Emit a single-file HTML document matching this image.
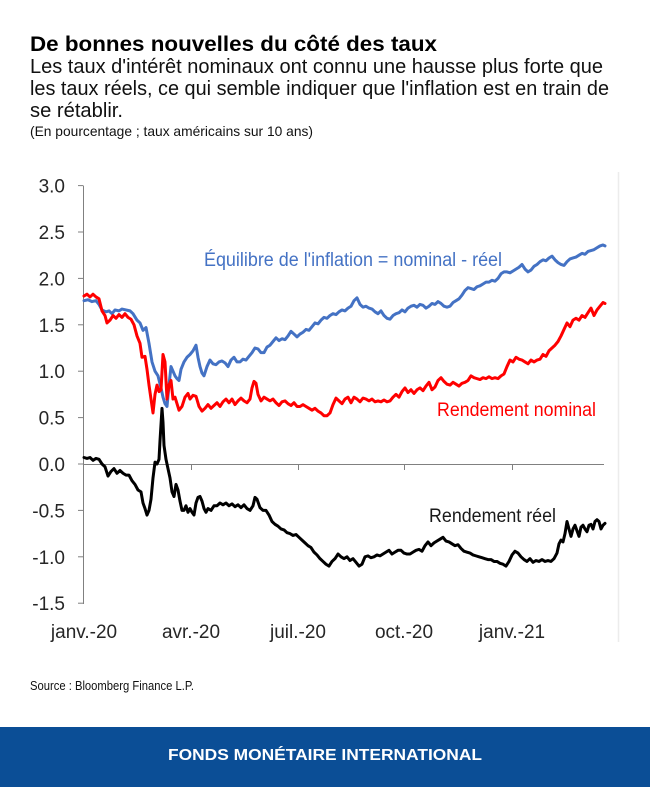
<!DOCTYPE html>
<html>
<head>
<meta charset="utf-8">
<style>
html,body{margin:0;padding:0;background:#fff;}
svg{display:block;}
</style>
</head>
<body>
<svg width="650" height="787" viewBox="0 0 650 787" xmlns="http://www.w3.org/2000/svg" font-family="'Liberation Sans', Arial, sans-serif">
<rect x="0" y="0" width="650" height="787" fill="#ffffff"/>

<!-- Titles -->
<text x="30" y="51" font-size="21" font-weight="bold" fill="#000" textLength="407" lengthAdjust="spacingAndGlyphs">De bonnes nouvelles du côté des taux</text>
<text x="30" y="73" font-size="20" fill="#111" textLength="573" lengthAdjust="spacingAndGlyphs">Les taux d'intérêt nominaux ont connu une hausse plus forte que</text>
<text x="30" y="95" font-size="20" fill="#111" textLength="579" lengthAdjust="spacingAndGlyphs">les taux réels, ce qui semble indiquer que l'inflation est en train de</text>
<text x="30" y="117" font-size="20" fill="#111" textLength="93" lengthAdjust="spacingAndGlyphs">se rétablir.</text>
<text x="30" y="136" font-size="14" fill="#111" textLength="283" lengthAdjust="spacingAndGlyphs">(En pourcentage ; taux américains sur 10 ans)</text>

<!-- faint right border line -->
<line x1="618.5" y1="172" x2="618.5" y2="642" stroke="#ececec" stroke-width="1.5"/>

<!-- Axes -->
<g stroke="#808080" stroke-width="1" fill="none">
<line x1="83.5" y1="186" x2="83.5" y2="604"/>
<line x1="78" y1="185.6" x2="83.5" y2="185.6"/>
<line x1="78" y1="232" x2="83.5" y2="232"/>
<line x1="78" y1="278.4" x2="83.5" y2="278.4"/>
<line x1="78" y1="324.8" x2="83.5" y2="324.8"/>
<line x1="78" y1="371.2" x2="83.5" y2="371.2"/>
<line x1="78" y1="417.6" x2="83.5" y2="417.6"/>
<line x1="78" y1="464" x2="83.5" y2="464"/>
<line x1="78" y1="510.4" x2="83.5" y2="510.4"/>
<line x1="78" y1="556.8" x2="83.5" y2="556.8"/>
<line x1="78" y1="603.2" x2="83.5" y2="603.2"/>
<line x1="83.5" y1="464.5" x2="604" y2="464.5"/>
<line x1="191.5" y1="464.5" x2="191.5" y2="470"/>
<line x1="298.5" y1="464.5" x2="298.5" y2="470"/>
<line x1="404.5" y1="464.5" x2="404.5" y2="470"/>
<line x1="512.5" y1="464.5" x2="512.5" y2="470"/>
</g>

<!-- Y tick labels -->
<g font-size="19" fill="#262626" text-anchor="end">
<text x="65" y="192.6">3.0</text>
<text x="65" y="239">2.5</text>
<text x="65" y="285.4">2.0</text>
<text x="65" y="331.8">1.5</text>
<text x="65" y="378.2">1.0</text>
<text x="65" y="424.6">0.5</text>
<text x="65" y="471">0.0</text>
<text x="65" y="517.4">-0.5</text>
<text x="65" y="563.8">-1.0</text>
<text x="65" y="610.2">-1.5</text>
</g>

<!-- X tick labels -->
<g font-size="19" fill="#262626" text-anchor="middle">
<text x="84" y="638">janv.-20</text>
<text x="191" y="638">avr.-20</text>
<text x="298" y="638">juil.-20</text>
<text x="404" y="638">oct.-20</text>
<text x="512" y="638">janv.-21</text>
</g>

<!-- Series -->
<g transform="translate(0,464) scale(1,-92.8)" fill="none" stroke-linejoin="round" stroke-linecap="round">
<polyline vector-effect="non-scaling-stroke" stroke="#4472C4" stroke-width="3" points="84,1.76 88,1.77 92,1.75 96,1.76 99,1.72 102,1.66 106,1.64 109,1.65 112,1.62 115,1.66 119,1.65 122,1.67 126,1.66 130,1.65 133,1.62 137,1.55 140,1.52 143,1.44 146,1.47 149,1.30 152,1.10 155,1.00 158,0.95 161,0.82 163,0.72 165,0.65 167,0.62 169,0.85 171,1.05 173,1.00 175,0.95 177,0.92 179,0.90 181,1.02 184,1.10 187,1.15 190,1.18 193,1.22 196,1.28 198,1.15 200,1.05 202,0.98 204,0.95 207,1.05 210,1.12 213,1.08 216,1.07 219,1.10 222,1.11 225,1.09 228,1.05 231,1.12 234,1.15 237,1.10 240,1.10 243,1.13 246,1.12 249,1.16 252,1.20 255,1.25 258,1.24 261,1.20 264,1.20 267,1.26 270,1.28 273,1.32 276,1.36 279,1.33 282,1.35 285,1.34 288,1.38 291,1.43 294,1.40 297,1.37 300,1.40 303,1.42 306,1.45 309,1.44 312,1.48 315,1.52 318,1.51 321,1.55 324,1.58 327,1.57 330,1.60 333,1.62 336,1.61 339,1.64 342,1.66 345,1.65 348,1.68 351,1.70 354,1.76 357,1.79 360,1.72 363,1.69 366,1.70 369,1.68 372,1.67 375,1.64 378,1.62 381,1.65 384,1.60 387,1.57 390,1.56 393,1.60 396,1.62 399,1.63 402,1.66 405,1.64 408,1.68 411,1.70 414,1.71 417,1.69 420,1.72 423,1.71 426,1.68 429,1.70 432,1.73 435,1.72 438,1.75 441,1.73 444,1.70 447,1.69 450,1.70 453,1.74 456,1.76 459,1.78 462,1.82 465,1.87 468,1.90 471,1.89 474,1.88 477,1.91 480,1.92 483,1.94 486,1.96 489,1.96 492,1.98 495,1.97 498,2.00 501,2.05 504,2.07 507,2.07 510,2.06 513,2.08 516,2.10 519,2.12 522,2.15 525,2.10 528,2.07 531,2.09 534,2.13 537,2.15 540,2.18 543,2.20 546,2.19 549,2.22 552,2.24 555,2.20 558,2.17 561,2.15 564,2.14 567,2.18 570,2.21 573,2.22 576,2.23 579,2.25 582,2.27 585,2.26 588,2.29 591,2.30 594,2.31 597,2.33 600,2.35 603,2.36 605,2.35"/>
<polyline vector-effect="non-scaling-stroke" stroke="#FF0000" stroke-width="3" points="84,1.81 87,1.83 90,1.80 93,1.83 96,1.80 99,1.78 102,1.65 105,1.60 107,1.52 110,1.55 113,1.60 116,1.57 119,1.61 122,1.58 125,1.62 128,1.58 131,1.56 134,1.50 137,1.38 140,1.30 142,1.15 145,1.16 147,1.02 149,0.85 151,0.70 153,0.55 155,0.75 157,0.85 159,0.78 161,0.80 163,1.18 165,1.10 167,0.70 169,0.85 171,0.90 173,0.70 175,0.72 177,0.65 179,0.58 182,0.62 185,0.72 188,0.76 190,0.70 193,0.74 196,0.73 199,0.62 202,0.57 205,0.60 208,0.64 211,0.60 214,0.63 217,0.66 220,0.62 223,0.67 226,0.70 229,0.66 232,0.70 235,0.64 238,0.68 241,0.71 244,0.68 247,0.66 250,0.70 252,0.82 254,0.89 256,0.87 258,0.75 261,0.68 264,0.72 267,0.70 270,0.68 273,0.70 276,0.66 279,0.63 282,0.67 285,0.68 288,0.65 291,0.63 294,0.66 297,0.62 300,0.62 303,0.64 306,0.62 309,0.60 312,0.58 315,0.60 318,0.57 321,0.55 324,0.52 327,0.52 330,0.55 333,0.64 336,0.71 339,0.68 342,0.65 345,0.70 348,0.72 351,0.66 354,0.72 357,0.70 360,0.67 363,0.71 366,0.70 369,0.68 372,0.70 375,0.67 378,0.68 381,0.67 384,0.69 387,0.67 390,0.68 393,0.72 396,0.75 399,0.72 402,0.78 405,0.82 408,0.77 411,0.80 414,0.76 417,0.80 420,0.82 423,0.79 426,0.84 429,0.88 432,0.80 435,0.83 438,0.90 441,0.93 444,0.89 447,0.86 450,0.85 453,0.88 456,0.86 459,0.84 462,0.87 465,0.88 468,0.90 471,0.95 474,0.93 477,0.92 480,0.91 483,0.93 486,0.92 489,0.94 492,0.92 495,0.93 498,0.92 501,0.95 504,0.97 507,1.05 510,1.12 513,1.10 516,1.15 519,1.13 522,1.12 525,1.10 528,1.08 531,1.12 534,1.10 537,1.12 540,1.13 543,1.18 546,1.16 549,1.22 552,1.25 555,1.28 558,1.32 561,1.38 564,1.45 567,1.52 570,1.48 573,1.55 576,1.57 579,1.55 582,1.60 585,1.58 588,1.63 591,1.68 594,1.60 597,1.66 600,1.70 603,1.74 605,1.73"/>
<polyline vector-effect="non-scaling-stroke" stroke="#000000" stroke-width="3" points="84,0.07 87,0.06 90,0.07 93,0.04 96,0.06 99,0.05 102,0.00 105,-0.03 108,-0.13 111,-0.08 114,-0.05 117,-0.10 120,-0.07 123,-0.10 126,-0.12 129,-0.12 132,-0.18 135,-0.22 138,-0.28 141,-0.30 143,-0.42 145,-0.48 147,-0.55 149,-0.50 151,-0.38 153,-0.15 155,0.02 157,0.00 159,0.05 160,0.25 162,0.60 163,0.45 164,0.20 166,0.05 168,-0.05 170,-0.15 172,-0.30 174,-0.35 176,-0.22 178,-0.28 180,-0.40 182,-0.50 184,-0.50 186,-0.45 188,-0.52 190,-0.48 192,-0.52 194,-0.55 196,-0.42 198,-0.36 200,-0.35 202,-0.40 204,-0.48 206,-0.52 208,-0.48 211,-0.50 214,-0.45 217,-0.45 220,-0.42 223,-0.44 226,-0.42 229,-0.45 232,-0.43 235,-0.46 238,-0.44 241,-0.47 244,-0.44 247,-0.48 250,-0.50 253,-0.45 255,-0.36 257,-0.38 260,-0.47 263,-0.50 266,-0.50 269,-0.55 272,-0.62 275,-0.65 278,-0.67 281,-0.70 284,-0.71 287,-0.74 290,-0.75 293,-0.77 296,-0.76 299,-0.79 302,-0.82 305,-0.85 308,-0.88 311,-0.90 314,-0.95 317,-0.98 320,-1.02 323,-1.05 326,-1.08 329,-1.10 332,-1.05 335,-1.02 338,-0.97 341,-1.00 344,-1.02 347,-1.00 350,-1.04 353,-1.02 356,-1.06 359,-1.10 362,-1.08 365,-1.00 368,-0.99 371,-1.01 374,-1.00 377,-0.98 380,-0.99 383,-0.97 386,-0.95 389,-0.93 392,-0.97 395,-0.95 398,-0.93 401,-0.93 404,-0.96 407,-0.97 410,-0.97 413,-0.95 416,-0.93 419,-0.92 422,-0.94 425,-0.88 428,-0.84 431,-0.88 434,-0.85 437,-0.83 440,-0.81 443,-0.79 446,-0.83 449,-0.84 452,-0.86 455,-0.88 458,-0.87 461,-0.91 464,-0.94 467,-0.95 470,-0.96 473,-0.98 476,-0.99 479,-1.00 482,-1.01 485,-1.02 488,-1.03 491,-1.03 494,-1.05 497,-1.05 500,-1.07 503,-1.08 506,-1.10 509,-1.05 512,-0.98 515,-0.94 518,-0.96 521,-1.00 524,-1.03 527,-1.05 530,-1.02 533,-1.06 536,-1.04 539,-1.05 542,-1.03 545,-1.05 548,-1.04 551,-1.05 554,-1.02 557,-0.96 559,-0.86 561,-0.82 563,-0.84 565,-0.75 567,-0.62 569,-0.70 571,-0.78 573,-0.70 575,-0.66 577,-0.72 579,-0.78 581,-0.68 583,-0.66 585,-0.70 587,-0.73 589,-0.66 591,-0.65 593,-0.70 595,-0.62 597,-0.60 599,-0.62 601,-0.70 603,-0.66 605,-0.64"/>
</g>

<!-- Series labels -->
<text x="204" y="266" font-size="19" fill="#4472C4" textLength="298" lengthAdjust="spacingAndGlyphs">Équilibre de l'inflation = nominal - réel</text>
<text x="437" y="416" font-size="19" fill="#FF0000" textLength="159" lengthAdjust="spacingAndGlyphs">Rendement nominal</text>
<text x="429" y="522" font-size="19" fill="#1a1a1a" textLength="127" lengthAdjust="spacingAndGlyphs">Rendement réel</text>

<!-- Source -->
<text x="30" y="690" font-size="12.5" fill="#111" textLength="164" lengthAdjust="spacingAndGlyphs">Source : Bloomberg Finance L.P.</text>

<!-- Footer -->
<rect x="0" y="727" width="650" height="60" fill="#0b4e96"/>
<text x="168" y="760" font-size="16" font-weight="bold" fill="#ffffff" textLength="314" lengthAdjust="spacingAndGlyphs">FONDS MONÉTAIRE INTERNATIONAL</text>
</svg>
</body>
</html>
